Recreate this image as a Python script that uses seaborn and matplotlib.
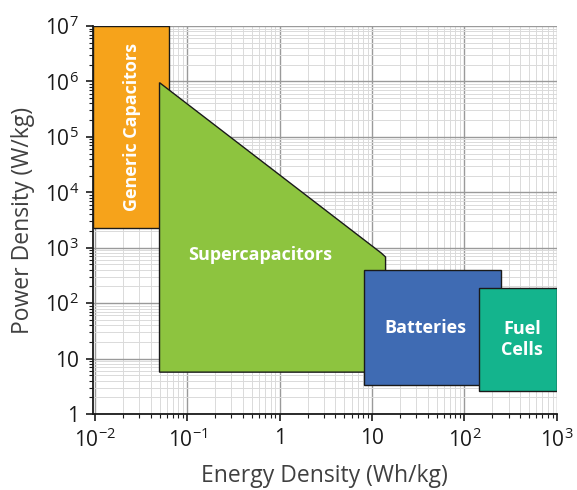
import matplotlib
matplotlib.use("Agg")
import matplotlib.pyplot as plt
import matplotlib.ticker as mticker
import seaborn as sns

# Ragone plot regions (Wh/kg, W/kg)
generic_x = [0.0095, 0.063, 0.063, 0.0095]
generic_y = [2300, 2300, 1e7, 1e7]
super_x = [0.05, 12.6, 14, 14, 0.05]
super_y = [9.5e5, 800, 680, 5.7, 5.7]
batt_x = [8.1, 251, 251, 8.1]
batt_y = [3.3, 3.3, 400, 400]
fuel_x = [145, 1000, 1000, 145]
fuel_y = [2.6, 2.6, 190, 190]

labels = ["Generic Capacitors", "Supercapacitors", "Batteries", "Fuel\nCells"]
label_x = [0.025, 0.61, 38, 420]
label_y = [1.5e5, 740, 36, 22]
colors = ["#F6A31B", "#8DC43F", "#3F6BB3", "#14B48D"]

x_ticks = [0.01, 0.1, 1, 10, 100, 1000]
x_ticklabels = [r"$10^{-2}$", r"$10^{-1}$", "1", "10", r"$10^{2}$", r"$10^{3}$"]
y_ticks = [1, 10, 100, 1e3, 1e4, 1e5, 1e6, 1e7]
y_ticklabels = ["1", "10", r"$10^{2}$", r"$10^{3}$", r"$10^{4}$", r"$10^{5}$", r"$10^{6}$", r"$10^{7}$"]

sns.set_style("white")
plt.rcParams['font.family'] = ['Open Sans', 'DejaVu Sans']
plt.rcParams['mathtext.fontset'] = 'custom'
plt.rcParams['mathtext.rm'] = 'Open Sans'
plt.rcParams['mathtext.it'] = 'Open Sans'

fig = plt.figure(figsize=(5.77, 4.9), dpi=100)
ax = fig.add_axes([0.161, 0.155, 0.804, 0.792])
ax.set_xscale("log")
ax.set_yscale("log")
ax.set_xlim(0.0095, 1000)
ax.set_ylim(1, 1e7)

ax.grid(which="major", color="#9a9a9a", linewidth=1.0, zorder=0)
ax.grid(which="minor", color="#dadada", linewidth=0.7, zorder=0)
ax.set_axisbelow(True)

shapes = [(generic_x, generic_y), (super_x, super_y), (batt_x, batt_y), (fuel_x, fuel_y)]
for i, (xs, ys) in enumerate(shapes):
    ax.fill(xs, ys, color=colors[i], edgecolor="#1a1a1a", linewidth=1.0, zorder=2 + i)

for i, lab in enumerate(labels):
    rot = 90 if i == 0 else 0
    ax.text(label_x[i], label_y[i], lab, color="white", fontsize=13, fontweight="bold",
            ha="center", va="center", rotation=rot, zorder=10, linespacing=1.25)

ax.set_xticks(x_ticks)
ax.set_xticklabels(x_ticklabels)
ax.set_yticks(y_ticks)
ax.set_yticklabels(y_ticklabels)
ax.xaxis.set_minor_locator(mticker.LogLocator(base=10, subs=range(2, 10), numticks=20))
ax.yaxis.set_minor_locator(mticker.LogLocator(base=10, subs=range(2, 10), numticks=20))
ax.xaxis.set_minor_formatter(mticker.NullFormatter())
ax.yaxis.set_minor_formatter(mticker.NullFormatter())
ax.tick_params(which="major", direction="out", length=5, width=1.2, labelsize=15,
               colors="#1a1a1a", left=True, bottom=True, pad=5)
ax.tick_params(which="minor", direction="out", length=3, width=0.8, color="#1a1a1a",
               left=True, bottom=True)

for side in ["top", "right"]:
    ax.spines[side].set_visible(False)
for side in ["left", "bottom"]:
    ax.spines[side].set_color("#1a1a1a")
    ax.spines[side].set_linewidth(1.3)

ax.set_xlabel("Energy Density (Wh/kg)", fontsize=16.5, color="#404040", labelpad=9)
ax.set_ylabel("Power Density (W/kg)", fontsize=16.5, color="#404040", labelpad=7)

fig.savefig("out.png", dpi=100)
